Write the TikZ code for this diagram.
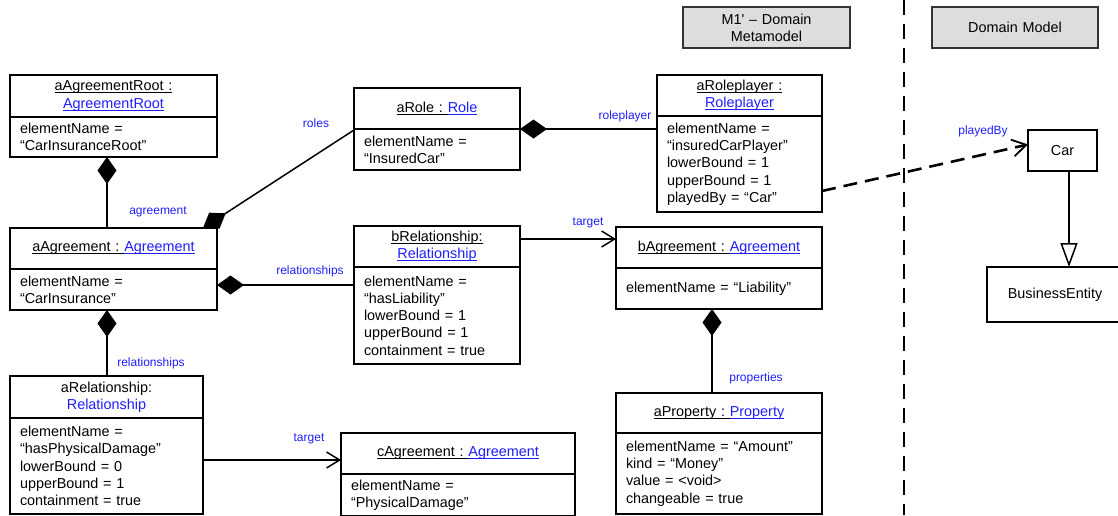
\documentclass[tikz,border=0pt]{standalone}
\usepackage{fontspec}
\setmainfont{Liberation Sans}[Ligatures=TeXOff]
\usetikzlibrary{arrows.meta,calc}
\definecolor{lblue}{RGB}{30,30,255}
\definecolor{titlegray}{RGB}{221,221,221}
% underline sitting just below the baseline, in the current colour
\newcommand\ulx[1]{\setbox0=\hbox{#1}\rlap{\rule[-2.4pt]{\wd0}{0.9pt}}\box0}
\newcommand\cls[1]{\textcolor{lblue}{\ulx{#1}}}

\begin{document}
\begin{tikzpicture}[x=1pt,y=-1pt,
  txt/.style={font=\fontsize{14.4}{17.3}\selectfont},
  hdr/.style={txt, draw, line width=1.5pt, fill=white, anchor=north west,
    inner xsep=0pt, inner ysep=0pt, outer sep=0pt, align=center},
  bdy/.style={txt, draw, line width=1.5pt, fill=white, anchor=north west,
    inner xsep=10pt, inner ysep=0pt, outer sep=0pt, align=left},
  titlebox/.style={hdr, fill=titlegray, draw=black!80, line width=1.6pt},
  classbox/.style={hdr},
  lbl/.style={font=\fontsize{12}{14}\selectfont, text=lblue, inner sep=0pt},
  link/.style={line width=1.5pt},
  comp/.style={link, {Diamond[length=27pt,width=19pt]}-},
  nav/.style={link, -{Straight Barb[length=13pt,width=16pt]}},
  gen/.style={link, -{Triangle[open,length=24pt,width=17pt,fill=white]}},
  dep/.style={line width=2.6pt, dash pattern=on 14pt off 8pt,
    -{Straight Barb[length=14pt,width=17pt,line width=1.8pt]}},
  sep/.style={line width=2.8pt, dash pattern=on 15pt off 9pt},
]
\useasboundingbox (0,0) rectangle (1118,515);

% layer titles
\node[titlebox, text width=167pt, minimum height=41pt] (m1) at (683,7) {M1' – Domain\\Metamodel};
\node[titlebox, text width=166pt, minimum height=41pt] (dm) at (932,7) {Domain Model};

% separator between the two layers
\coordinate (sepTop) at (904,0);
\coordinate (sepBot) at (904,515);
\draw[sep] (sepTop) -- (sepBot);

% instance objects
\node[hdr, text width=207pt, minimum height=42pt] (rootH) at (10,75) {\ulx{aAgreementRoot :}\\\cls{AgreementRoot}};
\node[bdy, text width=187pt, minimum height=40pt] (root) at (rootH.south west) {elementName =\\“CarInsuranceRoot”};

\node[hdr, text width=207pt, minimum height=41pt] (agH) at (10,228) {\ulx{aAgreement :~}\cls{Agreement}};
\node[bdy, text width=187pt, minimum height=41pt] (ag) at (agH.south west) {elementName =\\“CarInsurance”};

\node[hdr, text width=193pt, minimum height=42pt] (aRelH) at (10,376) {aRelationship:\\\textcolor{lblue}{Relationship}};
\node[bdy, text width=173pt, minimum height=96pt] (aRel) at (aRelH.south west) {elementName =\\“hasPhysicalDamage”\\lowerBound = 0\\upperBound = 1\\containment = true};

\node[hdr, text width=166pt, minimum height=41pt] (roleH) at (354,88) {\ulx{aRole :~}\cls{Role}};
\node[bdy, text width=146pt, minimum height=41pt] (role) at (roleH.south west) {elementName =\\“InsuredCar”};

\node[hdr, text width=165pt, minimum height=41pt] (rpH) at (657,75) {\ulx{aRoleplayer :}\\\cls{Roleplayer}};
\node[bdy, text width=145pt, minimum height=96pt] (rp) at (rpH.south west) {elementName =\\“insuredCarPlayer”\\lowerBound = 1\\upperBound = 1\\playedBy = “Car”};

\node[hdr, text width=166pt, minimum height=41pt] (bRelH) at (354,226) {\ulx{bRelationship:}\\\cls{Relationship}};
\node[bdy, text width=146pt, minimum height=97pt] (bRel) at (bRelH.south west) {elementName =\\“hasLiability”\\lowerBound = 1\\upperBound = 1\\containment = true};

\node[hdr, text width=206pt, minimum height=41pt] (bAgH) at (616,227) {\ulx{bAgreement :~}\cls{Agreement}};
\node[bdy, text width=186pt, minimum height=41pt] (bAg) at (bAgH.south west) {elementName = “Liability”};

\node[hdr, text width=206pt, minimum height=40pt] (propH) at (616,393) {\ulx{aProperty :~}\cls{Property}};
\node[bdy, text width=186pt, minimum height=81pt] (prop) at (propH.south west) {elementName = “Amount”\\kind = “Money”\\value = <void>\\changeable = true};

\node[hdr, text width=234pt, minimum height=41pt] (cAgH) at (341,433) {\ulx{cAgreement :~}\cls{Agreement}};
\node[bdy, text width=214pt, minimum height=42pt] (cAg) at (cAgH.south west) {elementName =\\“PhysicalDamage”};

% domain model classes
\node[classbox, text width=69pt, minimum height=41pt] (car) at (1028,130) {Car};
\node[classbox, text width=136pt, minimum height=55pt] (be) at (987,267) {BusinessEntity};

% links
\draw[comp] ($(root.south west)+(97,0)$) -- ($(agH.north west)+(97,0)$);
\draw[comp] ($(agH.north west)+(193,0)$) -- ($(roleH.south west)+(0,1)$);
\draw[comp] ($(ag.north east)+(0,16)$) -- ($(bRel.north west)+(0,18)$);
\draw[comp] ($(ag.south west)+(97,0)$) -- ($(aRelH.north west)+(97,0)$);
\draw[comp] (roleH.south east) -- ($(rp.north west)+(0,13)$);
\draw[comp] ($(bAg.south west)+(96,0)$) -- ($(propH.north west)+(96,0)$);
\draw[nav] ($(bRelH.north east)+(0,13)$) -- ($(bAgH.north west)+(0,12)$);
\draw[nav] ($(aRel.north east)+(0,42)$) -- ($(cAgH.north west)+(0,27)$);
\draw[dep] ($(rp.south east)+(0,-21)$) -- ($(car.west)+(0,-6)$);
\coordinate (carFoot) at ($(car.south)+(6.5,0)$);
\draw[gen] (carFoot) -- (carFoot |- be.north);

% role names
\node[lbl] (lAgr) at (158,212) {agreement};
\node[lbl] (lRoles) at (316,123) {roles};
\node[lbl] (lRels1) at (310,271) {relationships};
\node[lbl] (lRels2) at (151,363) {relationships};
\node[lbl] (lRp) at (625,116) {roleplayer};
\node[lbl] (lT1) at (588,223) {target};
\node[lbl] (lT2) at (309,439) {target};
\node[lbl] (lProp) at (756,378) {properties};
\node[lbl] (lPb) at (983,131) {playedBy};
\end{tikzpicture}
\end{document}
